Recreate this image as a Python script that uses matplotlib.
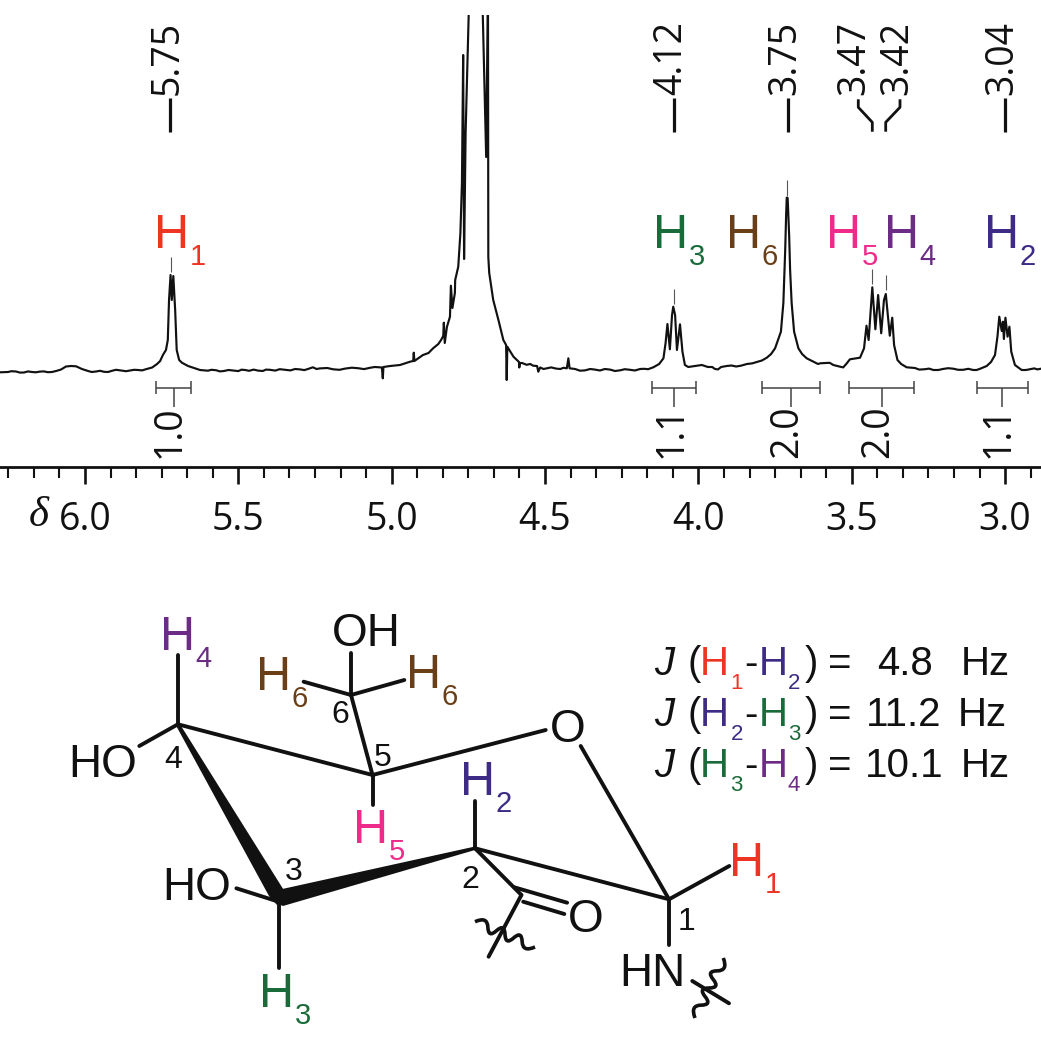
import matplotlib
matplotlib.use("Agg")
import matplotlib.pyplot as plt
from matplotlib.patches import Polygon, PathPatch
from matplotlib.path import Path
from matplotlib.ticker import MultipleLocator

W, H = 1041, 1050
SANS = "Liberation Sans"
LABEL = "Open Sans"
RED, INDIGO, GREEN, PURPLE, PINK, BROWN = "#EE3524", "#3D2B85", "#1A6B3A", "#6C2C85", "#EE2A8A", "#6A3F17"
INK = "#111111"

# ---------- spectrum data (chemical shift, intensity) ----------
shift_main = [6.277,6.251,6.225,6.199,6.173,6.147,6.121,6.094,6.078,6.062,6.046,6.029,6.010,5.990,5.964,5.938,5.912,5.899,5.879,5.853,
         5.827,5.801,5.781,5.765,5.755,5.746,5.736,5.730,5.726,5.721,5.717,5.712,5.706,5.701,5.693,5.684,5.664,5.645,5.625,5.599,
         5.573,5.547,5.517,5.478,5.436,5.397,5.348,5.299,5.273,5.257,5.234,5.191,5.152,5.110,5.071,5.038,5.032,5.029,5.027,5.005,
         4.973,4.940,4.930,4.928,4.926,4.898,4.865,4.839,4.832,4.830,4.827,4.820,4.810,4.807,4.802,4.794,4.793,4.783,4.776,4.771,
         4.767,4.764,4.759,4.749,4.738,4.712,4.703,4.692,4.687,4.686,4.685,4.682,4.669,4.652,4.636,4.627,4.625,4.623,4.603,4.585,
         4.584,4.582,4.539,4.526,4.522,4.516,4.494,4.464,4.429,4.424,4.420,4.402,4.386,4.353,4.321,4.288,4.255,4.223,4.190,4.164,
         4.147,4.128,4.114,4.107,4.101,4.093,4.086,4.082,4.076,4.070,4.060,4.052,4.044,4.033,4.011,3.989,3.969,3.946,3.926,3.908,
         3.877,3.842,3.809,3.777,3.763,3.750,3.731,3.723,3.717,3.714,3.712,3.709,3.704,3.701,3.696,3.688,3.674,3.662,3.647,3.625,
         3.603,3.584,3.560,3.538,3.518,3.506,3.489,3.473,3.460,3.452,3.445,3.438,3.433,3.423,3.414,3.404,3.395,3.389,3.376,3.368,
         3.362,3.351,3.339,3.321,3.294,3.261,3.234,3.203,3.169,3.137,3.104,3.082,3.060,3.046,3.033,3.025,3.019,3.011,3.007,3.004,
         2.999,2.992,2.986,2.980,2.968,2.946,2.919,2.883]
intensity_main = [-0.3,0.0,0.5,-0.5,0.0,0.4,-0.2,1.0,2.5,5.5,6.0,5.7,3.0,1.0,0.5,0.2,1.2,2.2,1.4,1.5,
             2.0,2.8,4.5,8.0,11.0,17.0,22.0,32.0,72.0,97.0,72.0,96.0,62.0,22.0,12.0,9.3,6.0,4.0,2.0,1.3,
             1.8,1.0,1.5,2.0,1.4,2.2,2.2,2.6,3.0,4.7,3.6,2.7,3.4,3.8,4.2,4.7,4.5,-6.3,5.0,6.0,
             7.0,10.3,11.0,19.3,11.0,17.0,23.7,32.0,36.0,49.3,29.0,45.0,55.3,86.3,64.0,79.0,92.0,105.3,139.0,189.0,
             317.0,113.0,239.0,357.0,432.0,432.0,357.0,215.0,357.0,362.0,115.0,99.0,72.0,52.0,32.0,27.0,-8.0,25.3,15.3,10.0,
             4.5,9.0,6.3,6.0,0.3,4.5,3.7,3.4,3.7,13.7,3.7,3.0,1.3,3.0,1.5,2.4,1.7,2.2,3.0,2.8,
             4.7,8.0,13.7,29.0,48.0,22.7,57.0,65.3,57.0,22.0,47.7,20.3,7.0,5.0,6.0,7.0,5.0,3.0,5.0,6.0,
             5.5,8.0,10.0,14.3,18.0,23.7,40.3,69.0,122.0,157.0,174.3,174.0,135.3,102.0,69.0,40.3,23.7,18.0,13.7,10.3,
             8.7,9.0,7.0,5.3,8.0,12.7,13.5,14.3,23.7,46.3,32.0,62.0,84.7,42.7,77.0,38.7,72.0,78.0,36.3,54.3,
             27.0,12.0,8.0,4.7,4.0,2.8,2.0,3.0,3.3,2.2,2.0,3.2,6.0,10.0,17.0,35.3,55.3,41.0,50.3,33.0,
             54.3,35.3,45.3,20.3,7.0,2.0,2.8,3.3]

# baseline ripple read between the main points
shift_ripple = [6.240,6.212,6.186,6.160,6.134,6.108,5.978,5.951,5.925,5.866,5.840,5.814,
                5.588,5.560,5.532,5.500,5.490,5.465,5.450,5.420,5.410,5.380,5.365,5.330,5.315,5.285,5.245,5.210,5.170,5.130,5.090,5.055,
                4.880,4.848,4.575,4.560,4.548,4.505,4.480,4.450,4.440,
                4.370,4.337,4.305,4.272,4.240,4.207,4.177,
                3.955,3.936,3.892,3.860,3.825,3.793,3.610,3.572,3.550,3.528,
                3.280,3.248,3.218,3.186,3.153,3.120,3.093,2.932,2.905,2.895]
intensity_ripple = [0.8,-0.6,0.6,-0.3,0.6,0.0,0.0,1.2,0.0,0.8,2.2,1.6,
                    2.2,0.6,2.0,0.9,2.3,1.2,2.4,1.0,2.4,1.4,2.8,1.6,3.0,1.9,3.0,4.0,2.2,4.3,2.9,5.0,
                    19.0,28.0,9.0,7.2,8.0,3.0,4.6,3.0,4.2,
                    1.6,2.4,3.0,1.0,2.8,1.5,3.2,
                    5.0,2.6,6.5,6.4,8.6,11.5,8.0,9.2,6.2,4.6,
                    2.4,3.4,2.0,3.8,2.2,3.2,2.0,2.0,3.6,2.6]

axis_ticks = [6.0, 5.5, 5.0, 4.5, 4.0, 3.5, 3.0]
axis_tick_labels = ["6.0", "5.5", "5.0", "4.5", "4.0", "3.5", "3.0"]

# small grey peak markers above the picked peaks
pick_ppm = [5.721, 4.079, 3.711, 3.434, 3.389]
pick_low = [100, 68, 176, 88, 82]
pick_high = [115, 83, 192, 103, 97]

# integral brackets
integral_left = [5.769, 4.151, 3.793, 3.509, 3.093]
integral_right = [5.653, 4.008, 3.603, 3.296, 2.926]
integral_mid = [5.711, 4.079, 3.698, 3.402, 3.009]
integral_text = ["1.0", "1.1", "2.0", "2.0", "1.1"]
integral_text_ppm = [5.723, 4.089, 3.711, 3.414, 3.020]

merged = sorted(zip(shift_main + shift_ripple, intensity_main + intensity_ripple), key=lambda p: -p[0])
shift = [p[0] for p in merged]
intensity = [p[1] for p in merged]

# ---------- figure ----------
fig = plt.figure(figsize=(W / 100, H / 100), dpi=100, facecolor="white")
TOP, AXIS_Y = 15, 467
ax = fig.add_axes([0, (H - AXIS_Y) / H, 1, (AXIS_Y - TOP) / H])
ax.patch.set_alpha(0)
ax.set_xlim(6.2771, 2.8830)
ax.set_ylim(372 - AXIS_Y, 372 - TOP)
for s in ("top", "left", "right"):
    ax.spines[s].set_visible(False)
ax.spines["bottom"].set_linewidth(2.0)
ax.spines["bottom"].set_color(INK)
ax.set_yticks([])
ax.set_xticks(axis_ticks)
ax.set_xticklabels(axis_tick_labels, fontfamily=LABEL, fontsize=27, color=INK)
ax.xaxis.set_minor_locator(MultipleLocator(0.5 / 6))
ax.tick_params(axis="x", which="major", length=12.5, width=1.9, pad=12, color=INK, direction="out")
ax.tick_params(axis="x", which="minor", length=8, width=1.5, color=INK, direction="out")

ax.plot(shift, intensity, color=INK, lw=1.55, solid_joinstyle="round")
ax.vlines(pick_ppm, pick_low, pick_high, color="#555555", lw=0.8)

GREY = "#444444"
for a, b, m, t, tp in zip(integral_left, integral_right, integral_mid, integral_text, integral_text_ppm):
    ax.hlines(-16, a, b, color=GREY, lw=1.1)
    ax.vlines([a, b], -22, -9, color=GREY, lw=1.1)
    ax.vlines(m, -35, -16, color=GREY, lw=1.1)
    ax.text(tp, -60, t, rotation=90, ha="center", va="center", fontfamily=LABEL, fontsize=27, color=INK)

# ---------- overlay in picture pixels: labels and molecule ----------
ov = fig.add_axes([0, 0, 1, 1], zorder=5)
ov.set_xlim(0, W)
ov.set_ylim(H, 0)
ov.axis("off")
ov.patch.set_alpha(0)

ov.text(39, 516, "δ", family="Liberation Serif", style="italic", fontsize=31, ha="center", va="center", color=INK)

pick_labels = ["5.75", "4.12", "3.75", "3.47", "3.42", "3.04"]
pick_label_x = [168, 671.5, 785, 854.5, 897, 1002]
for t, x in zip(pick_labels, pick_label_x):
    ov.text(x, 58, t, rotation=90, ha="center", va="center", fontfamily=LABEL, fontsize=27, color=INK)

pick_dash_x = [170.3, 674, 787.7, 1004.7]
for x in pick_dash_x:
    ov.plot([x, x], [98, 131.7], color=INK, lw=2.3, solid_capstyle="butt")
ov.plot([858.3, 858.3, 872.3, 872.3], [99.3, 107.3, 122.3, 131.7], color=INK, lw=2.0, solid_capstyle="butt")
ov.plot([900, 900, 885.7, 885.7], [99.3, 107.3, 122.3, 131.7], color=INK, lw=2.0, solid_capstyle="butt")


def hlabel(x, base, num, color, size=35, subsize=21, dx=33, dy=17):
    ov.text(x - size * 0.11, base, "H", color=color, fontsize=size, family=SANS, ha="left", va="baseline")
    ov.text(x + dx - subsize * 0.06, base + dy, num, color=color, fontsize=subsize, family=SANS, ha="left", va="baseline")


spectrum_labels = [(158, "1", RED), (656.7, "3", GREEN), (730, "6", BROWN), (830, "5", PINK), (888, "4", PURPLE), (988, "2", INDIGO)]
for x, n, c in spectrum_labels:
    hlabel(x, 248.3, n, c)

molecule_labels = [(164, 650, "4", PURPLE), (259.6, 690, "6", BROWN), (410, 688, "6", BROWN), (464, 795, "2", INDIGO),
                   (357, 843, "5", PINK), (263, 1006.7, "3", GREEN), (733, 876, "1", RED)]
for x, y, n, c in molecule_labels:
    hlabel(x, y, n, c)

# bonds
C1, C2, C3, C4, C5, C6 = (669, 899.3), (475, 848.3), (278.6, 901.7), (177.9, 724.3), (372.5, 775), (351, 695)
CO = (521.4, 895)
bonds = [
    (C4, (177.9, 655)), (C4, (139.3, 746)), (C4, C5), (C5, C6), (C6, (351, 652.7)),
    (C6, (303.6, 681.7)), (C6, (404.3, 680)), (C5, (372.5, 805)), (C5, (545.7, 730)),
    (C3, (236.4, 888.3)), (C3, (278.6, 968.3)), (C2, (475, 800.7)), (C2, C1),
    ((580.7, 746), C1), (C1, (729.3, 866)), (C1, (669, 945)), (C2, CO),
    ((514.3, 887.3), (567.1, 902.7)), ((523.2, 901.7), (564.3, 914)), (CO, (488.6, 956.7)),
    ((692.3, 981), (729, 1003.3)),
]
for p, q in bonds:
    ov.plot([p[0], q[0]], [p[1], q[1]], color=INK, lw=2.8, solid_capstyle="round")
ov.add_patch(Polygon([(176, 725.5), (179.5, 723.5), (285, 892), (277, 905), (269, 896)], closed=True, color=INK, lw=0))
ov.add_patch(Polygon([(475, 846.5), (475, 850), (283, 906), (276, 903), (280, 889.5)], closed=True, color=INK, lw=0))


def squiggle(p, q, n, amp):
    ux, uy = (q[0] - p[0]) / n, (q[1] - p[1]) / n
    L = (ux * ux + uy * uy) ** 0.5
    nx, ny = -uy / L, ux / L
    pts = [p]
    sign = -1
    for i in range(n - 1):
        pts.append((p[0] + ux * (i + 1) + sign * amp * nx, p[1] + uy * (i + 1) + sign * amp * ny))
        sign = -sign
    pts.append(q)
    verts, codes = [pts[0]], [Path.MOVETO]
    for i in range(1, len(pts) - 1):
        end = pts[i + 1] if i == len(pts) - 2 else ((pts[i][0] + pts[i + 1][0]) / 2, (pts[i][1] + pts[i + 1][1]) / 2)
        verts += [pts[i], end]
        codes += [Path.CURVE3, Path.CURVE3]
    ov.add_patch(PathPatch(Path(verts, codes), fill=False, edgecolor=INK, lw=2.6))


squiggle((475, 921.7), (535, 947), 7, 10)
squiggle((723.3, 958), (695, 1018), 7, 10)

# atom text
atoms = [("HO", 103, 760), ("HO", 197, 883.5), ("OH", 366, 629.5), ("O", 567.9, 725), ("O", 585.7, 915), ("HN", 652.5, 968.5)]
for t, x, y in atoms:
    ov.text(x, y, t, fontsize=33, family=SANS, color=INK, ha="center", va="center_baseline")

ring_numbers = [("6", 340, 711.7), ("5", 383, 755), ("4", 173, 756.7), ("3", 294, 869), ("2", 470, 876.7), ("1", 686, 919)]
for t, x, y in ring_numbers:
    ov.text(x, y, t, fontsize=23, family=SANS, color=INK, ha="center", va="center_baseline")

# coupling constants
j_base = [675, 725.7, 776.7]
j_pairs = [(("1", RED), ("2", INDIGO)), (("2", INDIGO), ("3", GREEN)), (("3", GREEN), ("4", PURPLE))]
j_values = ["4.8", "11.2", "10.1"]
j_value_x = [905, 904, 904]
j_hz_x = [985, 982, 985]


def jt(x, y, t, color=INK, size=29, ha="left", **kw):
    ov.text(x, y, t, fontsize=size, family=SANS, color=color, ha=ha, va="baseline", **kw)


for y, (a, b), val, vx, hx in zip(j_base, j_pairs, j_values, j_value_x, j_hz_x):
    jt(664, y, "J", style="italic", ha="center")
    jt(694, y, "(", ha="center")
    jt(699.5, y, "H", a[1])
    jt(730.5, y + 14, a[0], a[1], size=16)
    jt(751, y, "-", ha="center")
    jt(758.5, y, "H", b[1])
    jt(788, y + 14, b[0], b[1], size=16)
    jt(811, y, ")", ha="center")
    jt(840, y, "=", ha="center")
    jt(vx, y, val, ha="center")
    jt(hx, y, "Hz", ha="center")

fig.savefig("out.png", dpi=100, facecolor="white")
